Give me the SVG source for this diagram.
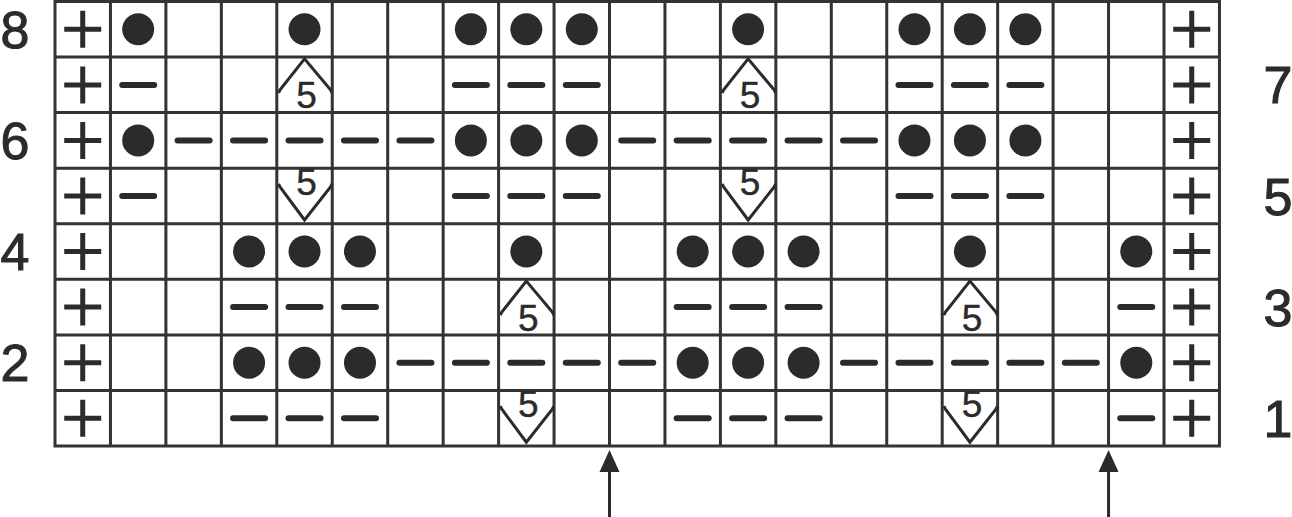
<svg xmlns="http://www.w3.org/2000/svg" xmlns:xlink="http://www.w3.org/1999/xlink" width="1292" height="517" viewBox="0 0 1292 517">
<style>
.grid{fill:none;stroke:#333;stroke-width:3}
.mk{stroke:#2b2b2b;fill:none}
.dot{fill:#2b2b2b}
.num{font-family:"Liberation Sans",Arial,sans-serif;font-size:52px;fill:#2b2b2b;stroke:#2b2b2b;stroke-width:1;text-anchor:middle}
.five{font-family:"Liberation Sans",Arial,sans-serif;font-size:37px;fill:#2b2b2b;stroke:#2b2b2b;stroke-width:0.4;text-anchor:middle}
.arr{stroke:#2b2b2b;stroke-width:3;fill:none}
</style>
<defs>
<g id="plus"><path class="mk" stroke-width="5" d="M-18.5,0H18.5M0,-18.5V18.5"/></g>
<g id="dot"><circle class="dot" r="16"/></g>
<g id="dash"><path class="mk" stroke-width="6" stroke-linecap="round" d="M-16,0H16"/></g>
<g id="up5"><polyline class="mk" stroke-width="3" stroke-linejoin="miter" points="-26,8 -24.5,5 0,-26 26,5 27.5,8"/><text class="five" x="2" y="23.5">5</text></g>
<g id="down5"><text class="five" x="2" y="-1">5</text><polyline class="mk" stroke-width="3" points="-26,-12 -24.5,-9 0,24 26,-9 27.5,-12"/></g>
</defs>
<rect width="1292" height="517" fill="#fff"/>
<g id="grid">
<path class="grid" d="M55,1.5H1219.45V446H55Z M55,57.1H1219.45 M55,112.6H1219.45 M55,168.2H1219.45 M55,223.7H1219.45 M55,279.3H1219.45 M55,334.9H1219.45 M55,390.4H1219.45 M110.45,1.5V446 M165.9,1.5V446 M221.35,1.5V446 M276.8,1.5V446 M332.25,1.5V446 M387.7,1.5V446 M443.15,1.5V446 M498.6,1.5V446 M554.05,1.5V446 M609.5,1.5V446 M664.95,1.5V446 M720.4,1.5V446 M775.85,1.5V446 M831.3,1.5V446 M886.75,1.5V446 M942.2,1.5V446 M997.65,1.5V446 M1053.1,1.5V446 M1108.55,1.5V446 M1164,1.5V446"/>
</g>
<g id="row8">
<use href="#plus" x="82.73" y="29.3"/><use href="#dot" x="138.18" y="29.3"/><use href="#dot" x="304.53" y="29.3"/>
<use href="#dot" x="470.88" y="29.3"/><use href="#dot" x="526.33" y="29.3"/><use href="#dot" x="581.78" y="29.3"/>
<use href="#dot" x="748.13" y="29.3"/><use href="#dot" x="914.48" y="29.3"/><use href="#dot" x="969.93" y="29.3"/><use href="#dot" x="1025.38" y="29.3"/>
<use href="#plus" x="1191.73" y="29.3"/>
</g>
<g id="row7">
<use href="#plus" x="82.73" y="84.9"/><use href="#dash" x="138.18" y="84.9"/><use href="#up5" x="304.53" y="84.9"/>
<use href="#dash" x="470.88" y="84.9"/><use href="#dash" x="526.33" y="84.9"/><use href="#dash" x="581.78" y="84.9"/>
<use href="#up5" x="748.13" y="84.9"/><use href="#dash" x="914.48" y="84.9"/><use href="#dash" x="969.93" y="84.9"/><use href="#dash" x="1025.38" y="84.9"/>
<use href="#plus" x="1191.73" y="84.9"/>
</g>
<g id="row6">
<use href="#plus" x="82.73" y="140.4"/><use href="#dot" x="138.18" y="140.4"/>
<use href="#dash" x="193.63" y="140.4"/><use href="#dash" x="249.08" y="140.4"/><use href="#dash" x="304.53" y="140.4"/><use href="#dash" x="359.98" y="140.4"/><use href="#dash" x="415.43" y="140.4"/>
<use href="#dot" x="470.88" y="140.4"/><use href="#dot" x="526.33" y="140.4"/><use href="#dot" x="581.78" y="140.4"/>
<use href="#dash" x="637.23" y="140.4"/><use href="#dash" x="692.68" y="140.4"/><use href="#dash" x="748.13" y="140.4"/><use href="#dash" x="803.58" y="140.4"/><use href="#dash" x="859.03" y="140.4"/>
<use href="#dot" x="914.48" y="140.4"/><use href="#dot" x="969.93" y="140.4"/><use href="#dot" x="1025.38" y="140.4"/>
<use href="#plus" x="1191.73" y="140.4"/>
</g>
<g id="row5">
<use href="#plus" x="82.73" y="196"/><use href="#dash" x="138.18" y="196"/><use href="#down5" x="304.53" y="196"/>
<use href="#dash" x="470.88" y="196"/><use href="#dash" x="526.33" y="196"/><use href="#dash" x="581.78" y="196"/>
<use href="#down5" x="748.13" y="196"/><use href="#dash" x="914.48" y="196"/><use href="#dash" x="969.93" y="196"/><use href="#dash" x="1025.38" y="196"/>
<use href="#plus" x="1191.73" y="196"/>
</g>
<g id="row4">
<use href="#plus" x="82.73" y="251.5"/>
<use href="#dot" x="249.08" y="251.5"/><use href="#dot" x="304.53" y="251.5"/><use href="#dot" x="359.98" y="251.5"/>
<use href="#dot" x="526.33" y="251.5"/>
<use href="#dot" x="692.68" y="251.5"/><use href="#dot" x="748.13" y="251.5"/><use href="#dot" x="803.58" y="251.5"/>
<use href="#dot" x="969.93" y="251.5"/><use href="#dot" x="1136.28" y="251.5"/>
<use href="#plus" x="1191.73" y="251.5"/>
</g>
<g id="row3">
<use href="#plus" x="82.73" y="307.1"/>
<use href="#dash" x="249.08" y="307.1"/><use href="#dash" x="304.53" y="307.1"/><use href="#dash" x="359.98" y="307.1"/>
<use href="#up5" x="526.33" y="307.1"/>
<use href="#dash" x="692.68" y="307.1"/><use href="#dash" x="748.13" y="307.1"/><use href="#dash" x="803.58" y="307.1"/>
<use href="#up5" x="969.93" y="307.1"/><use href="#dash" x="1136.28" y="307.1"/>
<use href="#plus" x="1191.73" y="307.1"/>
</g>
<g id="row2">
<use href="#plus" x="82.73" y="362.7"/>
<use href="#dot" x="249.08" y="362.7"/><use href="#dot" x="304.53" y="362.7"/><use href="#dot" x="359.98" y="362.7"/>
<use href="#dash" x="415.43" y="362.7"/><use href="#dash" x="470.88" y="362.7"/><use href="#dash" x="526.33" y="362.7"/><use href="#dash" x="581.78" y="362.7"/><use href="#dash" x="637.23" y="362.7"/>
<use href="#dot" x="692.68" y="362.7"/><use href="#dot" x="748.13" y="362.7"/><use href="#dot" x="803.58" y="362.7"/>
<use href="#dash" x="859.03" y="362.7"/><use href="#dash" x="914.48" y="362.7"/><use href="#dash" x="969.93" y="362.7"/><use href="#dash" x="1025.38" y="362.7"/><use href="#dash" x="1080.83" y="362.7"/>
<use href="#dot" x="1136.28" y="362.7"/>
<use href="#plus" x="1191.73" y="362.7"/>
</g>
<g id="row1">
<use href="#plus" x="82.73" y="418.2"/>
<use href="#dash" x="249.08" y="418.2"/><use href="#dash" x="304.53" y="418.2"/><use href="#dash" x="359.98" y="418.2"/>
<use href="#down5" x="526.33" y="418.2"/>
<use href="#dash" x="692.68" y="418.2"/><use href="#dash" x="748.13" y="418.2"/><use href="#dash" x="803.58" y="418.2"/>
<use href="#down5" x="969.93" y="418.2"/><use href="#dash" x="1136.28" y="418.2"/>
<use href="#plus" x="1191.73" y="418.2"/>
</g>
<g id="labels">
<text class="num" x="15" y="48">8</text>
<text class="num" x="15" y="159">6</text>
<text class="num" x="15" y="270">4</text>
<text class="num" x="15" y="381.2">2</text>
<text class="num" x="1278" y="103.4">7</text>
<text class="num" x="1278" y="214.5">5</text>
<text class="num" x="1278" y="325.6">3</text>
<text class="num" x="1278" y="436.7">1</text>
</g>
<g id="connectors">
<path class="arr" d="M609.5,470V517"/>
<polygon fill="#2b2b2b" points="609.5,450 599.5,472 619.5,472"/>
<path class="arr" d="M1108.55,470V517"/>
<polygon fill="#2b2b2b" points="1108.55,450 1098.55,472 1118.55,472"/>
</g>
</svg>
